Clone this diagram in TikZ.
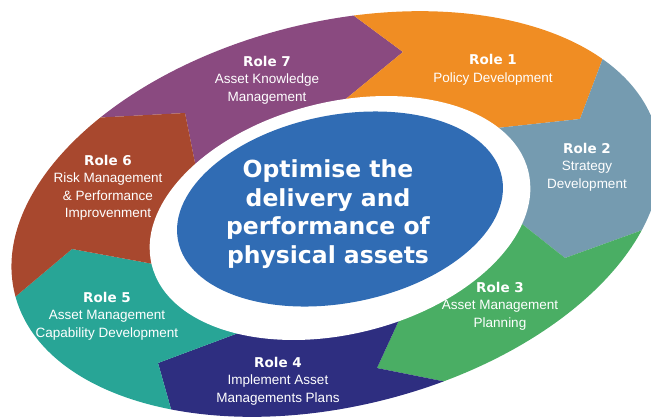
\documentclass[tikz,border=0pt]{standalone}
\usepackage{fontspec}
\setmainfont{Liberation Sans}
\newfontfamily\headfont{DejaVu Sans}
\usetikzlibrary{calc}

\definecolor{rolepurple}{HTML}{8A4A80}
\definecolor{roleorange}{HTML}{F08D23}
\definecolor{rolegrey}{HTML}{759BB0}
\definecolor{rolegreen}{HTML}{4AAE64}
\definecolor{rolenavy}{HTML}{2E2E80}
\definecolor{roleteal}{HTML}{28A596}
\definecolor{rolerust}{HTML}{A8482E}
\definecolor{goalblue}{HTML}{306CB4}

\newcommand{\rolehead}[1]{{\headfont\bfseries Role #1}}

\tikzset{
  rolelabel/.style={text=white, align=center, inner sep=0pt, font=\fontsize{13.5}{17.5}\selectfont},
  goallabel/.style={text=white, align=center, inner sep=0pt, font=\headfont\bfseries\fontsize{23.5}{28.5}\selectfont}
}

\begin{document}
\begin{tikzpicture}[x=1pt,y=-1pt]
	\useasboundingbox (0,0) rectangle (651,416);
	\clip (0,0) rectangle (651,416);

	\coordinate (mid) at (340,215);
	\coordinate (ring) at (336,214);
	\coordinate (hole) at (340,218);
	\coordinate (core) at (340,209);

	\coordinate (o71) at (353,15);  \coordinate (t71) at (403,52);  \coordinate (i71) at (347,98);
	\coordinate (o12) at (603,58);  \coordinate (t12) at (580,119); \coordinate (i12) at (497,128);
	\coordinate (o23) at (637,232); \coordinate (t23) at (565,258); \coordinate (i23) at (517,220);
	\coordinate (o34) at (447,382); \coordinate (t34) at (377,368); \coordinate (i34) at (400,318);
	\coordinate (o45) at (173,416); \coordinate (t45) at (158,363); \coordinate (i45) at (233,335);
	\coordinate (o56) at (15,297);  \coordinate (t56) at (72,249);  \coordinate (i56) at (148,263);
	\coordinate (o67) at (110,117); \coordinate (t67) at (185,113); \coordinate (i67) at (195,163);

	\foreach \col/\tail/\head in {rolepurple/67/71, roleorange/71/12, rolegrey/12/23, rolegreen/23/34, rolenavy/34/45, roleteal/45/56, rolerust/56/67}{
		\begin{scope}
			\clip ($(t\tail)!2.5!(o\tail)$) -- (o\tail) -- (t\tail) -- ($(t\tail)!1.2!(i\tail)$) -- (mid)
				-- ($(t\head)!1.2!(i\head)$) -- (t\head) -- (o\head) -- ($(t\head)!2.5!(o\head)$) -- cycle;
			\fill[\col, rotate around={14:(ring)}] (ring) ellipse [x radius=331, y radius=192];
		\end{scope}
	}

	\fill[white, rotate around={14:(hole)}] (hole) ellipse [x radius=194, y radius=116];
	\fill[goalblue, rotate around={11:(core)}] (core) ellipse [x radius=165, y radius=94];

	\node[goallabel] (goal) at (328,214) {Optimise the\\delivery and\\performance of\\physical assets};

	\node[rolelabel] (role1) at (493,70) {\rolehead{1}\\Policy Development};
	\node[rolelabel] (role2) at (587,167) {\rolehead{2}\\Strategy\\Development};
	\node[rolelabel] (role3) at (500,306) {\rolehead{3}\\Asset Management\\Planning};
	\node[rolelabel] (role4) at (278,381) {\rolehead{4}\\Implement Asset\\Managements Plans};
	\node[rolelabel] (role5) at (107,316) {\rolehead{5}\\Asset Management\\Capability Development};
	\node[rolelabel] (role6) at (108,188) {\rolehead{6}\\Risk Management\\\& Performance\\Improvenment};
	\node[rolelabel] (role7) at (267,80) {\rolehead{7}\\Asset Knowledge\\Management};
\end{tikzpicture}
\end{document}
